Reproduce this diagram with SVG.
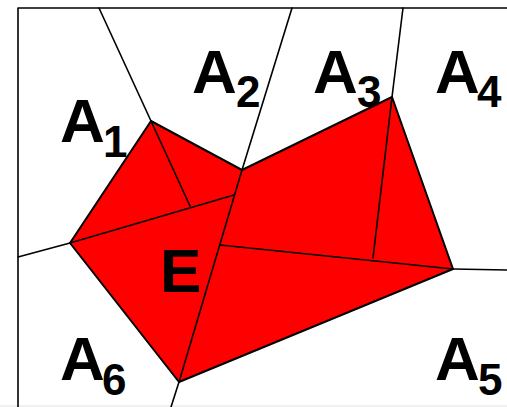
<svg xmlns="http://www.w3.org/2000/svg" width="507" height="407" viewBox="0 0 507 407">
<style>
.ln{fill:none;stroke:#000;stroke-width:1.6;stroke-linecap:round;stroke-linejoin:round}
.big{font-family:"Liberation Sans",Arial,sans-serif;font-weight:bold;font-size:62px;fill:#000}
.sub{font-family:"Liberation Sans",Arial,sans-serif;font-weight:bold;font-size:44px;fill:#000}
</style>
<rect width="507" height="407" fill="#fff"/>
<rect x="0" y="405" width="507" height="2" fill="#f0f0f0"/>
<g id="E">
<polygon points="70,243 151,121 242,170 392,97 453,269 179,382" fill="#ff0000" stroke="#000" stroke-width="2" stroke-linejoin="round"/>
<text class="big" x="160" y="292">E</text>
</g>
<g id="connectors">
<path class="ln" d="M18,407 V8 H507" stroke-width="2"/>
<path class="ln" d="M99,8 L151,121"/>
<path class="ln" d="M292,8 L242,170"/>
<path class="ln" d="M403,8 L392,97"/>
<path class="ln" d="M453,269 L507,270"/>
<path class="ln" d="M179,382 L171,407"/>
<path class="ln" d="M18,257 L70,243"/>
<path class="ln" d="M151,121 L190,206"/>
<path class="ln" d="M70,243 L234,195"/>
<path class="ln" d="M242,170 L179,382"/>
<path class="ln" d="M220,245 L453,269"/>
<path class="ln" d="M392,97 L373,258"/>
</g>
<g id="A1"><text class="big" x="60" y="142">A</text><text class="sub" x="103" y="157">1</text></g>
<g id="A2"><text class="big" x="192" y="93">A</text><text class="sub" x="236" y="107">2</text></g>
<g id="A3"><text class="big" x="313" y="93">A</text><text class="sub" x="357" y="107">3</text></g>
<g id="A4"><text class="big" x="435" y="93">A</text><text class="sub" x="477" y="107">4</text></g>
<g id="A5"><text class="big" x="435" y="380">A</text><text class="sub" x="478" y="395">5</text></g>
<g id="A6"><text class="big" x="60" y="380">A</text><text class="sub" x="102" y="395">6</text></g>
</svg>
